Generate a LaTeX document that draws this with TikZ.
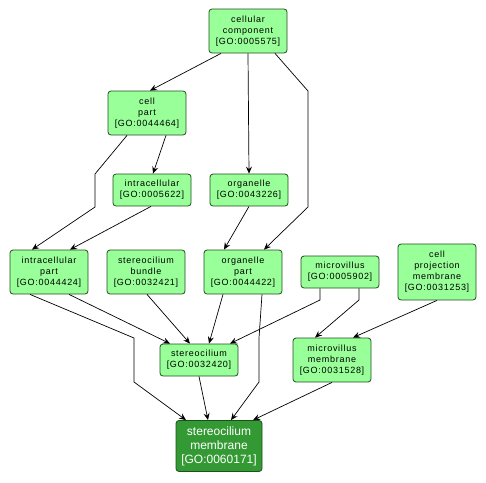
\documentclass[tikz,border=0pt]{standalone}
\usepackage{fontspec}
\setmainfont{Liberation Sans}
\newfontfamily\lblfont[LetterSpace=8]{Liberation Sans}
\usetikzlibrary{arrows.meta}
\definecolor{lightg}{HTML}{99FF99}
\definecolor{darkg}{HTML}{339933}
\definecolor{edgeg}{HTML}{1F4F1F}
\tikzset{
  term/.style={draw=edgeg, line width=0.8pt, fill=lightg, rounded corners=3pt,
    minimum width=78pt, inner sep=0pt, align=center,
    font=\lblfont\fontsize{9}{11}\selectfont},
  focus/.style={draw=edgeg, line width=0.8pt, fill=darkg, rounded corners=3pt,
    minimum width=86pt, minimum height=51pt, inner sep=0pt, align=center, text=white,
    font=\fontsize{12}{14}\selectfont},
  edge/.style={draw=black, line width=0.7pt, -{Stealth[length=7pt,width=6pt,inset=2.5pt]}}
}
\begin{document}
\begin{tikzpicture}[x=1pt,y=-1pt]
\useasboundingbox (0,0) rectangle (486,482);
\node[term, minimum height=44pt] (cc) at (248,31) {cellular\\component\\{[GO:0005575]}};
\node[term, minimum height=44pt] (cp) at (147,113) {cell\\part\\{[GO:0044464]}};
\node[term, minimum height=32pt] (ic) at (152,190) {intracellular\\{[GO:0005622]}};
\node[term, minimum height=32pt] (org) at (249,190) {organelle\\{[GO:0043226]}};
\node[term, minimum height=44pt] (icp) at (49,272) {intracellular\\part\\{[GO:0044424]}};
\node[term, minimum height=44pt] (sb) at (146,272) {stereocilium\\bundle\\{[GO:0032421]}};
\node[term, minimum height=44pt] (op) at (243,272) {organelle\\part\\{[GO:0044422]}};
\node[term, minimum height=32pt] (mv) at (340,272) {microvillus\\{[GO:0005902]}};
\node[term, minimum height=56pt] (cpm) at (437,272) {cell\\projection\\membrane\\{[GO:0031253]}};
\node[term, minimum height=32pt] (st) at (199,360) {stereocilium\\{[GO:0032420]}};
\node[term, minimum height=44pt] (mm) at (332,360) {microvillus\\membrane\\{[GO:0031528]}};
\node[focus] (sm) at (219,446) {stereocilium\\membrane\\{[GO:0060171]}};

\draw[edge] ([xshift=-27pt]cc.south) -- ([xshift=3pt]cp.north);
\draw[edge] (cc.south) -- (org.north);
\draw[edge] ([xshift=27pt]cc.south) -- (308,91) -- (308,207) -- ([xshift=21pt]op.north);
\draw[edge] ([xshift=19pt]cp.south) -- ([xshift=1pt]ic.north);
\draw[edge] ([xshift=-20pt]cp.south) -- (95,174) -- (95,207) -- ([xshift=-17pt]icp.north);
\draw[edge] ([xshift=-1pt]ic.south) -- ([xshift=21pt]icp.north);
\draw[edge] (org.south) -- ([xshift=-19pt]op.north);
\draw[edge] ([xshift=-19pt]icp.south) -- (134,338) -- (134,382) -- ([xshift=-33pt]sm.north);
\draw[edge] ([xshift=20pt]icp.south) -- ([xshift=-29pt]st.north);
\draw[edge] ([xshift=1pt]sb.south) -- ([xshift=-9pt]st.north);
\draw[edge] ([xshift=-20pt]op.south) -- ([xshift=10pt]st.north);
\draw[edge] ([xshift=19pt]op.south) -- (259,338) -- (259,382) -- ([xshift=12pt]sm.north);
\draw[edge] ([xshift=-20pt]mv.south) -- (320,300) -- ([xshift=31pt]st.north);
\draw[edge] ([xshift=19pt]mv.south) -- (359,300) -- ([xshift=-17pt]mm.north);
\draw[edge] (cpm.south) -- ([xshift=21pt]mm.north);
\draw[edge] (st.south) -- ([xshift=-11pt]sm.north);
\draw[edge] (mm.south) -- ([xshift=34pt]sm.north);
\end{tikzpicture}
\end{document}
